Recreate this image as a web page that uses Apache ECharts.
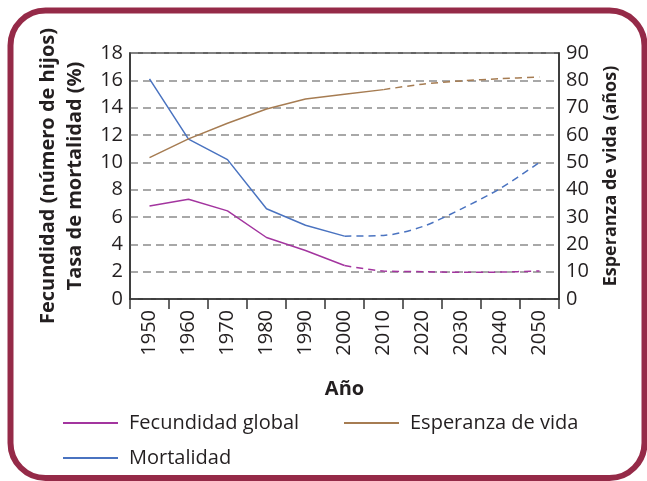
<!DOCTYPE html>
<html>
<head>
<meta charset="utf-8">
<script src="https://cdn.jsdelivr.net/npm/echarts@6/dist/echarts.min.js"></script>
<style>
  html, body { margin: 0; padding: 0; background: #ffffff; }
  #chart { width: 647px; height: 481px; }
</style>
</head>
<body>
<div id="chart"></div>
<script>
// Decades on the horizontal axis
const years = ['1950', '1960', '1970', '1980', '1990', '2000', '2010', '2020', '2030', '2040', '2050'];

// Fecundidad global (número de hijos por mujer) — left axis
const fecundidad = [6.8, 7.3, 6.45, 4.5, 3.55, 2.45, 2.05, 2.0, 1.95, 1.97, 2.05];
// Tasa de mortalidad (%) — left axis
const mortalidad = [16.1, 11.7, 10.2, 6.6, 5.4, 4.6, 4.65, 5.3, 6.6, 8.1, 10.0];
// Esperanza de vida (años) — right axis
const esperanza = [51.7, 58.6, 64.3, 69.5, 73.2, 74.9, 76.6, 78.6, 79.8, 80.6, 81.2];

// Index of the last observed value; later values are projections (dashed)
const lastObserved = { fecundidad: 5, mortalidad: 5, esperanza: 6 };

const leftTicks = { min: 0, max: 18, interval: 2 };
const rightTicks = { min: 0, max: 90, interval: 10 };

const FONT = '"Open Sans", "Noto Sans", sans-serif';
const INK = '#231f20';
const colors = { fecundidad: '#a3359f', mortalidad: '#4a73c0', esperanza: '#a67c52' };

function observed(values, k) { return values.map((v, i) => (i <= k ? v : '-')); }
function projected(values, k) { return values.map((v, i) => (i >= k ? v : '-')); }

function pair(name, values, k, color, yAxisIndex) {
  const base = {
    name, type: 'line', yAxisIndex, symbol: 'none', silent: true,
    itemStyle: { color }, z: 3
  };
  return [
    Object.assign({}, base, { data: observed(values, k), lineStyle: { color, width: 1.5 } }),
    Object.assign({}, base, { data: projected(values, k), smooth: 0.3, lineStyle: { color, width: 1.5, type: [7, 5] } })
  ];
}

const chart = echarts.init(document.getElementById('chart'), null, { renderer: 'canvas' });

const legendText = { fontFamily: FONT, fontSize: 20, color: INK, lineHeight: 22, padding: [0, 0, 0, 6] };

chart.setOption({
  animation: false,
  backgroundColor: '#ffffff',
  textStyle: { fontFamily: FONT },
  graphic: [{
    type: 'rect',
    shape: { x: 10.5, y: 10.5, width: 634, height: 467.5, r: 35 },
    style: { fill: 'none', stroke: '#952a48', lineWidth: 6 },
    z: -1
  }],
  grid: {
    left: 130, right: 88, top: 53, bottom: 182,
    show: true, borderColor: '#333333', borderWidth: 1.5, backgroundColor: 'transparent'
  },
  legend: [{
    orient: 'vertical', left: 63, top: 412, padding: 0, itemWidth: 55, itemHeight: 2, itemGap: 13,
    icon: 'rect', selectedMode: false,
    data: ['Fecundidad global', 'Mortalidad'], textStyle: legendText
  }, {
    orient: 'vertical', left: 344, top: 412, padding: 0, itemWidth: 55, itemHeight: 2, itemGap: 13,
    icon: 'rect', selectedMode: false,
    data: ['Esperanza de vida'], textStyle: legendText
  }],
  xAxis: {
    type: 'category', data: years, boundaryGap: true,
    name: 'Año', nameLocation: 'middle', nameGap: 80,
    nameTextStyle: { fontFamily: FONT, fontSize: 20, fontWeight: 'bold', color: INK },
    axisLine: { lineStyle: { color: '#333333', width: 1.5 } },
    axisTick: { show: true, length: 10, lineStyle: { color: '#333333', width: 1.5 } },
    axisLabel: { rotate: 90, fontSize: 20, color: INK, margin: 11, fontFamily: FONT },
    splitLine: { show: false }
  },
  yAxis: [{
    type: 'value', position: 'left', min: leftTicks.min, max: leftTicks.max, interval: leftTicks.interval,
    name: 'Fecundidad (número de hijos)\nTasa de mortalidad (%)',
    nameLocation: 'middle', nameGap: 40, nameRotate: 90,
    nameTextStyle: { fontFamily: FONT, fontSize: 20, fontWeight: 'bold', color: INK, lineHeight: 27.5 },
    axisLine: { show: true, lineStyle: { color: '#333333', width: 1.5 } },
    axisTick: { show: false },
    axisLabel: { fontSize: 20, color: INK, margin: 7, fontFamily: FONT },
    splitLine: { show: true, lineStyle: { color: '#8c8c8c', width: 1.5, type: [8, 5] } }
  }, {
    type: 'value', position: 'right', min: rightTicks.min, max: rightTicks.max, interval: rightTicks.interval,
    name: 'Esperanza de vida (años)',
    nameLocation: 'middle', nameGap: 43, nameRotate: 90,
    nameTextStyle: { fontFamily: FONT, fontSize: 18, fontWeight: 'bold', color: INK },
    axisLine: { show: true, lineStyle: { color: '#333333', width: 1.5 } },
    axisTick: { show: false },
    axisLabel: { fontSize: 20, color: INK, margin: 7, fontFamily: FONT },
    splitLine: { show: false }
  }],
  series: [].concat(
    pair('Fecundidad global', fecundidad, lastObserved.fecundidad, colors.fecundidad, 0),
    pair('Mortalidad', mortalidad, lastObserved.mortalidad, colors.mortalidad, 0),
    pair('Esperanza de vida', esperanza, lastObserved.esperanza, colors.esperanza, 1)
  )
});
</script>
</body>
</html>
